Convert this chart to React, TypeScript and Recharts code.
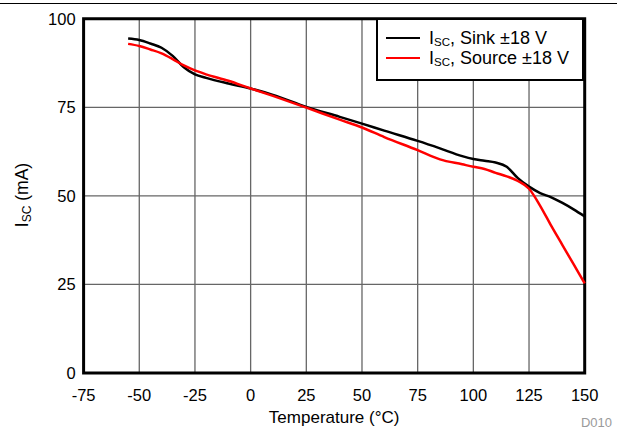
import React from "react";
import {
  LineChart,
  Line,
  XAxis,
  YAxis,
  CartesianGrid,
  Legend,
  ReferenceArea,
  Label,
} from "recharts";

const temperatures = [
  -55, -50, -45, -40, -35, -30, -25, -20, -10, 0, 10, 25, 40, 50, 60, 75, 85, 95,
  100, 105, 110, 115, 120, 125, 130, 135, 140, 145, 150,
];
const sinkValues = [
  94.4, 94.0, 93.0, 91.8, 89.5, 86.3, 84.3, 83.3, 81.7, 80.3, 78.5, 75.1, 72.3,
  70.4, 68.4, 65.5, 63.4, 61.2, 60.4, 59.9, 59.4, 58.2, 55.0, 52.6, 50.8, 49.6,
  48.0, 46.2, 44.2,
];
const sourceValues = [
  92.9, 92.3, 91.3, 90.2, 88.6, 86.8, 85.4, 84.3, 82.5, 80.3, 78.2, 74.9, 71.5,
  69.3, 66.6, 62.9, 60.3, 58.9, 58.2, 57.6, 56.5, 55.5, 54.2, 52.0, 47.2, 41.5,
  36.1, 30.7, 25.3,
];
const xTicks = [-75, -50, -25, 0, 25, 50, 75, 100, 125, 150];
const yTicks = [0, 25, 50, 75, 100];

const data = temperatures.map((t, i) => ({
  temp: t,
  sink: sinkValues[i],
  source: sourceValues[i],
}));

const FONT = "'Liberation Sans', Arial, sans-serif";

function LegendBox({ payload }: any) {
  return (
    <div
      style={{
        boxSizing: "border-box",
        width: 208,
        height: 63,
        border: "2.5px solid #000",
        background: "#fff",
        fontFamily: FONT,
        fontSize: 18,
        color: "#000",
        paddingTop: 8,
        paddingLeft: 8,
      }}
    >
      {(payload || []).map((p: any) => (
        <div key={p.value} style={{ display: "flex", alignItems: "center", height: 20, whiteSpace: "nowrap" }}>
          <div style={{ width: 34, height: 2.5, background: p.color, marginRight: 9 }} />
          <span>
            I<sub style={{ fontSize: 11.5, verticalAlign: "-2px" }}>SC</sub>, {p.value}
          </span>
        </div>
      ))}
    </div>
  );
}

function YTitle() {
  return (
    <text
      x={0}
      y={0}
      transform="translate(28,195) rotate(-90)"
      textAnchor="middle"
      fontFamily={FONT}
      fontSize={17.5}
      fill="#000"
    >
      I
      <tspan fontSize={12} dy={3}>SC</tspan>
      <tspan dy={-3}> (mA)</tspan>
    </text>
  );
}

export default function App() {
  return (
    <div style={{ position: "absolute", left: 0, top: 0, width: 617, height: 429, background: "#fff" }}>
      <div style={{ position: "absolute", left: 0, top: 3, width: 617, height: 1, background: "#000" }} />
      <LineChart
        width={617}
        height={429}
        data={data}
        margin={{ top: 18.7, right: 32.3, bottom: 0, left: 0 }}
      >
        <CartesianGrid stroke="#666" strokeWidth={1.3} />
        <XAxis
          dataKey="temp"
          type="number"
          domain={[-75, 150]}
          ticks={xTicks}
          height={56}
          axisLine={false}
          tickLine={false}
          tickSize={8}
          tickMargin={8}
          tick={{ fill: "#000", fontSize: 16.5, fontFamily: FONT }}
        >
          <Label
            value="Temperature (°C)"
            position="insideBottom"
            offset={6}
            style={{ fill: "#000", fontSize: 17, fontFamily: FONT }}
          />
        </XAxis>
        <YAxis
          type="number"
          domain={[0, 100]}
          ticks={yTicks}
          width={83.6}
          axisLine={false}
          tickLine={false}
          tickSize={4}
          tickMargin={4}
          tick={{ fill: "#000", fontSize: 16.5, fontFamily: FONT }}
        >
          <Label content={<YTitle />} />
        </YAxis>
        <ReferenceArea
          x1={-75}
          x2={150}
          y1={0}
          y2={100}
          fill="none"
          stroke="#000"
          strokeWidth={3}
          ifOverflow="visible"
        />
        <Line
          type="monotone"
          dataKey="sink"
          name="Sink ±18 V"
          stroke="#000"
          strokeWidth={2.5}
          dot={false}
          isAnimationActive={false}
        />
        <Line
          type="monotone"
          dataKey="source"
          name="Source ±18 V"
          stroke="#ff0000"
          strokeWidth={2.5}
          dot={false}
          isAnimationActive={false}
        />
        <Legend
          layout="vertical"
          align="center"
          verticalAlign="middle"
          content={<LegendBox />}
          wrapperStyle={{ left: 376, top: 18, width: 208, height: 63 }}
        />
      </LineChart>
      <div
        style={{
          position: "absolute",
          right: 5,
          top: 415,
          fontFamily: FONT,
          fontSize: 13,
          color: "#9a9a9a",
        }}
      >
        D010
      </div>
    </div>
  );
}
